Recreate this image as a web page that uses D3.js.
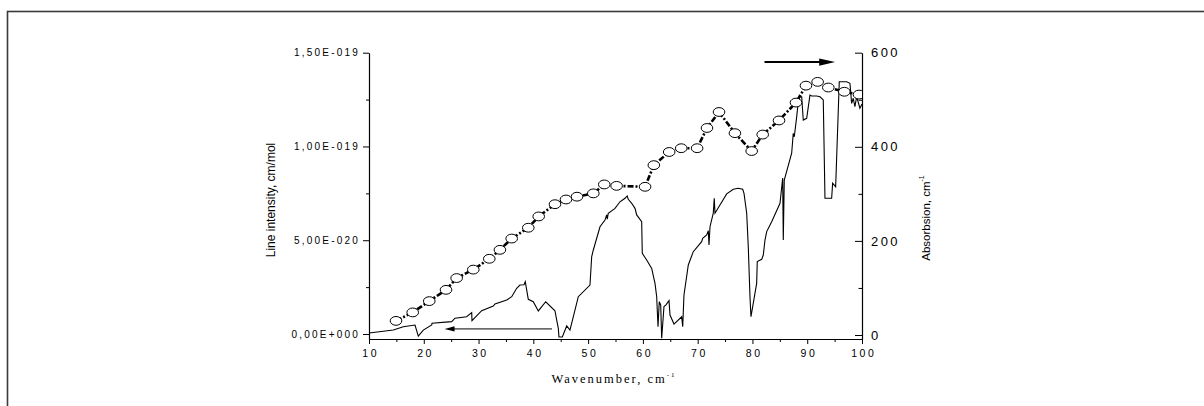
<!DOCTYPE html>
<html>
<head>
<meta charset="utf-8">
<script src="https://cdn.jsdelivr.net/npm/d3@7/dist/d3.min.js"></script>
<style>
  html, body { margin: 0; padding: 0; background: #fff; }
  svg { display: block; }
</style>
</head>
<body>
<svg id="chart" width="1204" height="406"></svg>
<script>
// ---------------- DATA ----------------
// Line intensity (left axis), cm/mol
const lineX = [10, 14.44, 16.26, 18.40, 19.0, 19.91, 21.45, 21.50, 25.10, 25.70, 27.83, 28.75, 28.80, 30.57, 32.69, 33.0,
  35.14, 36.05, 36.96, 37.56, 38.30, 38.53, 39.08, 39.99, 40.91, 42.26, 43.95, 44.26, 44.56, 44.68, 45.29, 46.09,
  46.69, 48.21, 50.34, 50.65, 50.95, 52.17, 53.08, 53.39, 53.50, 53.68, 54.91, 55.82, 56.73, 57.15, 57.33, 57.96,
  58.56, 58.87, 59.78, 59.89, 60.69, 61.61, 62.21, 62.52, 62.76, 62.99, 63.25, 63.43, 63.85, 64.22, 64.77, 64.95,
  65.68, 67.08, 67.27, 67.50, 68.29, 69.20, 70.73, 70.92, 71.65, 71.94, 72.07, 72.25, 72.85, 73.03, 73.16, 74.07,
  75.30, 76.50, 77.42, 78.22, 78.46, 78.95, 79.24, 79.55, 79.73, 80.77, 80.88, 81.69, 81.98, 82.29, 82.60, 83.51,
  85.03, 85.52, 85.63, 85.81, 87.16, 87.45, 87.64, 88.08, 88.37, 88.68, 88.99, 89.28, 89.90, 90.50, 90.81, 91.73,
  92.33, 92.93, 93.24, 94.46, 94.64, 95.19, 95.85, 97.20, 97.80, 98.11, 98.40, 98.71, 99.02, 99.62, 100];
const lineY = [0.05e-20, 0.21e-20, 0.39e-20, 0.48e-20, -0.11e-20, 0.21e-20, 0.48e-20, 0.57e-20, 0.66e-20, 0.84e-20,
  0.92e-20, 1.14e-20, 0.71e-20, 1.24e-20, 1.49e-20, 1.60e-20, 1.81e-20, 1.99e-20, 2.44e-20, 2.61e-20, 2.63e-20,
  2.79e-20, 1.85e-20, 1.72e-20, 1.23e-20, 1.72e-20, 1.24e-20, 0.75e-20, 0.30e-20, -0.16e-20, -0.16e-20, 0.43e-20,
  0.21e-20, 1.99e-20, 2.61e-20, 4.12e-20, 4.48e-20, 5.72e-20, 6.08e-20, 6.35e-20, 6.12e-20, 6.44e-20, 6.70e-20,
  7.05e-20, 7.24e-20, 7.36e-20, 7.18e-20, 6.97e-20, 6.70e-20, 6.35e-20, 5.99e-20, 4.30e-20, 3.95e-20, 3.50e-20,
  2.70e-20, 1.99e-20, 0.39e-20, 1.72e-20, 1.55e-20, -0.23e-20, 1.46e-20, 1.55e-20, 1.78e-20, 1.01e-20, 0.53e-20,
  0.92e-20, 0.39e-20, 2.08e-20, 3.68e-20, 4.39e-20, 4.92e-20, 5.10e-20, 5.28e-20, 5.51e-20, 4.75e-20, 5.72e-20,
  6.44e-20, 7.24e-20, 6.44e-20, 6.88e-20, 7.47e-20, 7.72e-20, 7.77e-20, 7.72e-20, 7.50e-20, 6.44e-20, 4.66e-20,
  1.99e-20, 0.92e-20, 2.70e-20, 3.86e-20, 3.98e-20, 4.21e-20, 5.01e-20, 5.46e-20, 5.99e-20, 6.97e-20, 8.32e-20,
  5.01e-20, 8.21e-20, 9.64e-20, 10.70e-20, 10.52e-20, 11.59e-20, 12.39e-20, 12.65e-20, 12.65e-20, 11.41e-20,
  11.50e-20, 12.74e-20, 12.69e-20, 12.69e-20, 12.65e-20, 12.48e-20, 7.24e-20, 7.24e-20, 8.04e-20, 7.85e-20,
  13.45e-20, 13.45e-20, 13.37e-20, 12.30e-20, 12.57e-20, 12.12e-20, 12.65e-20, 12.04e-20, 12.26e-20];

// Absorbsion (right axis), cm^-1
const absX = [14.93, 17.98, 21.0, 24.06, 26.0, 29.04, 31.96, 33.9, 36.05, 39.08, 40.98, 43.95, 45.96, 47.97, 50.95,
  52.95, 55.2, 60.4, 62.0, 64.8, 67.0, 69.9, 71.7, 73.9, 76.8, 79.86, 81.87, 84.85, 87.95, 89.77, 91.9, 93.85, 96.77, 99.45];
const absY = [30, 48, 72, 96, 121, 139, 162, 181, 205, 228, 252, 278, 288, 294, 301, 320, 317, 315, 361, 389, 397,
  397, 440, 474, 429, 391, 426, 456, 494, 530, 538, 526, 517, 511];

// Axis ticks
const xTicks = [10, 20, 30, 40, 50, 60, 70, 80, 90, 100];
const xMinorTicks = [15, 25, 35, 45, 55, 65, 75, 85, 95];
const leftTicks = [0, 5e-20, 1e-19, 1.5e-19];
const leftTickLabels = ["0,00E+000", "5,00E-020", "1,00E-019", "1,50E-019"];
const leftMinorTicks = [2.5e-20, 7.5e-20, 1.25e-19];
const rightTicks = [0, 200, 400, 600];
const rightMinorTicks = [100, 300, 500];

// annotation arrows (data coordinates)
const arrowRight = { x1: 82.2, x2: 95.1, v: 580 };      // right axis series
const arrowLeft = { x1: 43.4, x2: 23.8, v: 0.27e-20 }; // left axis series

// ---------------- LAYOUT ----------------
const svg = d3.select("#chart");
const L = 369, R = 862, T = 52.7, B = 339;

const x = d3.scaleLinear().domain([10, 100]).range([L, R]);
const yL = d3.scaleLinear().domain([-0.267e-20, 1.5e-19]).range([B, T]);
const yR = d3.scaleLinear().domain([-8.5, 600]).range([B, T]);

// outer frame
svg.append("rect").attr("x", 7.5).attr("y", 11.5).attr("width", 1400).attr("height", 600)
  .attr("fill", "none").attr("stroke", "#3a3a3a").attr("stroke-width", 1.6);

const defs = svg.append("defs");
defs.append("clipPath").attr("id", "plotclip").append("rect")
  .attr("x", L).attr("y", 30).attr("width", R - L).attr("height", B - 30 + 0.5);

const tickFont = "Arial, 'Liberation Sans', sans-serif";

// left axis
const gL = svg.append("g").attr("transform", `translate(${L},0)`);
gL.call(d3.axisLeft(yL).tickValues(leftTicks).tickSize(6)
  .tickFormat((d, i) => leftTickLabels[i]).tickSizeOuter(0));
gL.append("g").call(d3.axisLeft(yL).tickValues(leftMinorTicks).tickSize(3).tickFormat("")).select(".domain").remove();

// right axis (ticks inward)
const gR = svg.append("g").attr("transform", `translate(${R},0)`);
gR.call(d3.axisRight(yR).tickValues(rightTicks).tickSize(0).tickPadding(9).tickSizeOuter(0));
gR.selectAll(".tick line").remove();
gR.append("g").call(d3.axisLeft(yR).tickValues(rightTicks).tickSize(7).tickFormat("")).select(".domain").remove();
gR.append("g").call(d3.axisLeft(yR).tickValues(rightMinorTicks).tickSize(3.5).tickFormat("")).select(".domain").remove();

// bottom axis
const gB = svg.append("g").attr("transform", `translate(0,${B})`);
gB.call(d3.axisBottom(x).tickValues(xTicks).tickSize(5).tickPadding(6).tickSizeOuter(0));
gB.append("g").call(d3.axisBottom(x).tickValues(xMinorTicks).tickSize(3).tickFormat("")).select(".domain").remove();

// extend left/right axis lines down to the bottom axis
svg.selectAll(".domain").attr("stroke", "#000").attr("stroke-width", 1.2);
svg.selectAll(".tick line").attr("stroke", "#000").attr("stroke-width", 1);

gL.selectAll(".tick text").attr("font-family", tickFont).attr("font-size", 10)
  .attr("letter-spacing", 2.2).attr("fill", "#000").attr("dx", 0);
gR.selectAll(".tick text").attr("font-family", tickFont).attr("font-size", 13)
  .attr("letter-spacing", 2.4).attr("fill", "#000");
gB.selectAll(".tick text").attr("font-family", tickFont).attr("font-size", 10.5)
  .attr("letter-spacing", 2.6).attr("fill", "#000").attr("dx", 1.3);

// axis titles
svg.append("text").attr("transform", `translate(275,200) rotate(-90)`)
  .attr("text-anchor", "middle").attr("font-family", tickFont).attr("font-size", 12).attr("fill", "#000")
  .text("Line intensity, cm/mol");

const rt = svg.append("text").attr("transform", `translate(930,218) rotate(-90)`)
  .attr("text-anchor", "middle").attr("font-family", tickFont).attr("font-size", 11.5).attr("fill", "#000");
rt.append("tspan").text("Absorbsion, cm");
rt.append("tspan").attr("font-size", 7).attr("dy", -6).text("-1");

const bt = svg.append("text").attr("x", 614).attr("y", 383)
  .attr("text-anchor", "middle").attr("font-family", "'Times New Roman', 'Liberation Serif', serif")
  .attr("font-size", 12.5).attr("letter-spacing", 2).attr("fill", "#000");
bt.append("tspan").text("Wavenumber, cm");
bt.append("tspan").attr("font-size", 7).attr("dy", -6).text("-1");

// ---------------- MARKS ----------------
const plot = svg.append("g").attr("clip-path", "url(#plotclip)");

const lineData = lineX.map((d, i) => [d, lineY[i]]);
plot.append("path").datum(lineData)
  .attr("d", d3.line().x(d => x(d[0])).y(d => yL(d[1])))
  .attr("fill", "none").attr("stroke", "#000").attr("stroke-width", 1.1).attr("stroke-linejoin", "miter");

const absData = absX.map((d, i) => [d, absY[i]]);
plot.append("path").datum(absData)
  .attr("d", d3.line().x(d => x(d[0])).y(d => yR(d[1])))
  .attr("fill", "none").attr("stroke", "#000").attr("stroke-width", 2.6)
  .attr("stroke-dasharray", "6,2,2,2");

plot.selectAll("ellipse.abs").data(absData).join("ellipse").attr("class", "abs")
  .attr("cx", d => x(d[0])).attr("cy", d => yR(d[1]))
  .attr("rx", 5.8).attr("ry", 4.4)
  .attr("fill", "#fff").attr("stroke", "#000").attr("stroke-width", 1);

// arrows
function arrow(x1, x2, yv, w, headLen, headHalf) {
  const dir = Math.sign(x2 - x1);
  svg.append("line").attr("x1", x1).attr("x2", x2 - dir * headLen * 0.8).attr("y1", yv).attr("y2", yv)
    .attr("stroke", "#000").attr("stroke-width", w);
  svg.append("path")
    .attr("d", `M${x2},${yv} L${x2 - dir * headLen},${yv - headHalf} L${x2 - dir * headLen},${yv + headHalf} Z`)
    .attr("fill", "#000");
}
arrow(x(arrowRight.x1), x(arrowRight.x2), yR(arrowRight.v), 2, 16, 3.6);
arrow(x(arrowLeft.x1), x(arrowLeft.x2), yL(arrowLeft.v), 1, 10, 2.6);
</script>
</body>
</html>
